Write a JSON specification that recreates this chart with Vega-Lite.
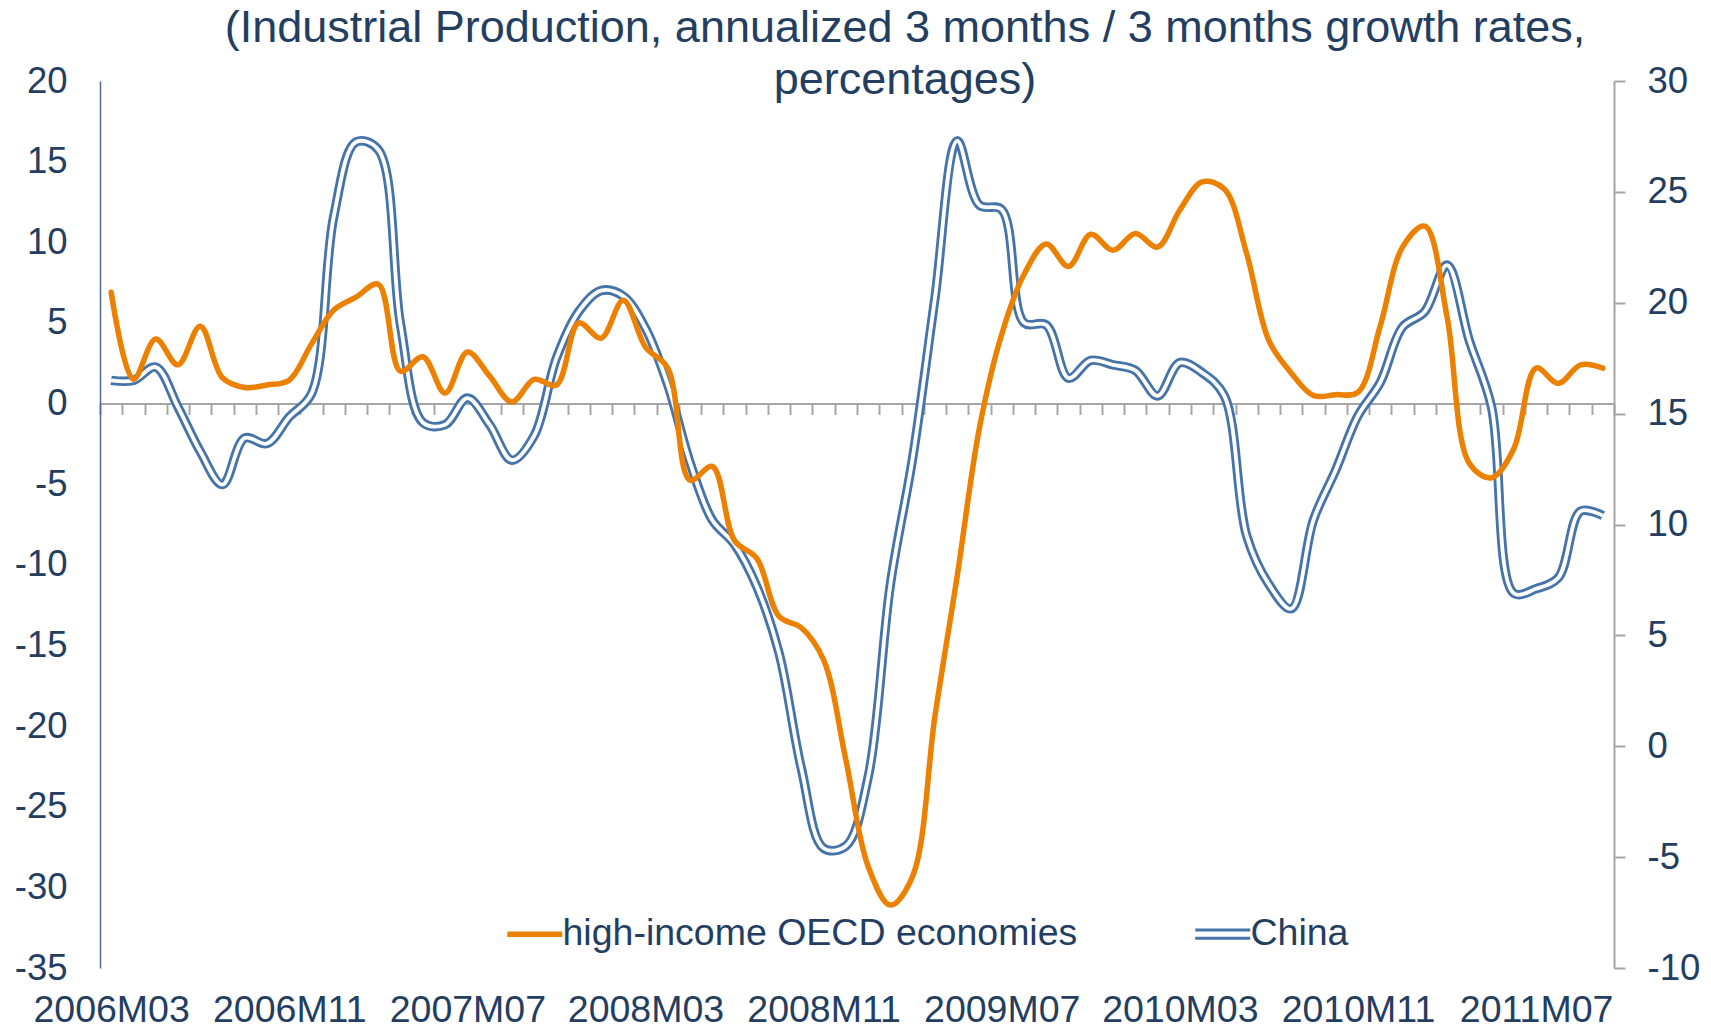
{
  "$schema": "https://vega.github.io/schema/vega-lite/v6.json",
  "width": 1514,
  "height": 887,
  "autosize": "none",
  "padding": {"left": 100, "top": 81, "right": 97, "bottom": 64},
  "background": "white",
  "config": {
    "view": {"stroke": null},
    "font": "Liberation Sans",
    "axis": {"grid": false}
  },
  "title": {
    "text": ["(Industrial Production, annualized 3 months / 3 months growth rates,", "percentages)"],
    "font": "Liberation Sans",
    "fontSize": 45,
    "fontWeight": "normal",
    "color": "#233E61",
    "anchor": "middle",
    "frame": "group",
    "dx": 48,
    "lineHeight": 52,
    "offset": -40
  },
  "data": {
    "values": [
      {"month": "2006M03", "oecd": 6.9, "china": 16.5},
      {"month": "2006M04", "oecd": 1.5, "china": 16.5},
      {"month": "2006M05", "oecd": 4.0, "china": 17.1},
      {"month": "2006M06", "oecd": 2.4, "china": 15.3},
      {"month": "2006M07", "oecd": 4.8, "china": 13.3},
      {"month": "2006M08", "oecd": 1.6, "china": 11.8},
      {"month": "2006M09", "oecd": 1.0, "china": 13.9},
      {"month": "2006M10", "oecd": 1.15, "china": 13.65},
      {"month": "2006M11", "oecd": 1.45, "china": 14.85},
      {"month": "2006M12", "oecd": 3.7, "china": 15.9},
      {"month": "2007M01", "oecd": 5.8, "china": 23.9},
      {"month": "2007M02", "oecd": 6.6, "china": 27.25},
      {"month": "2007M03", "oecd": 7.4, "china": 26.9},
      {"month": "2007M04", "oecd": 2.0, "china": 19.0},
      {"month": "2007M05", "oecd": 2.9, "china": 14.6},
      {"month": "2007M06", "oecd": 0.65, "china": 14.5},
      {"month": "2007M07", "oecd": 3.2, "china": 15.7},
      {"month": "2007M08", "oecd": 1.7, "china": 14.5},
      {"month": "2007M09", "oecd": 0.1, "china": 12.9},
      {"month": "2007M10", "oecd": 1.5, "china": 14.0},
      {"month": "2007M11", "oecd": 1.15, "china": 17.5},
      {"month": "2007M12", "oecd": 5.0, "china": 19.6},
      {"month": "2008M01", "oecd": 4.05, "china": 20.55},
      {"month": "2008M02", "oecd": 6.4, "china": 20.3},
      {"month": "2008M03", "oecd": 3.5, "china": 18.85},
      {"month": "2008M04", "oecd": 2.2, "china": 16.3},
      {"month": "2008M05", "oecd": -4.75, "china": 12.8},
      {"month": "2008M06", "oecd": -3.9, "china": 10.2},
      {"month": "2008M07", "oecd": -8.5, "china": 9.1},
      {"month": "2008M08", "oecd": -9.6, "china": 7.2},
      {"month": "2008M09", "oecd": -13.2, "china": 4.2},
      {"month": "2008M10", "oecd": -13.9, "china": -1.0},
      {"month": "2008M11", "oecd": -15.9, "china": -4.6},
      {"month": "2008M12", "oecd": -22.1, "china": -4.5},
      {"month": "2009M01", "oecd": -28.7, "china": -1.4},
      {"month": "2009M02", "oecd": -31.1, "china": 7.3},
      {"month": "2009M03", "oecd": -29.3, "china": 13.0},
      {"month": "2009M04", "oecd": -19.4, "china": 20.2},
      {"month": "2009M05", "oecd": -10.7, "china": 27.3},
      {"month": "2009M06", "oecd": -1.5, "china": 24.4},
      {"month": "2009M07", "oecd": 4.3, "china": 24.2},
      {"month": "2009M08", "oecd": 8.0, "china": 19.1},
      {"month": "2009M09", "oecd": 9.9, "china": 19.0},
      {"month": "2009M10", "oecd": 8.5, "china": 16.6},
      {"month": "2009M11", "oecd": 10.5, "china": 17.4},
      {"month": "2009M12", "oecd": 9.5, "china": 17.2},
      {"month": "2010M01", "oecd": 10.55, "china": 16.95},
      {"month": "2010M02", "oecd": 9.7, "china": 15.8},
      {"month": "2010M03", "oecd": 12.0, "china": 17.3},
      {"month": "2010M04", "oecd": 13.75, "china": 16.85},
      {"month": "2010M05", "oecd": 13.3, "china": 15.8},
      {"month": "2010M06", "oecd": 9.3, "china": 9.5},
      {"month": "2010M07", "oecd": 3.9, "china": 7.3},
      {"month": "2010M08", "oecd": 1.9, "china": 6.2},
      {"month": "2010M09", "oecd": 0.5, "china": 10.2},
      {"month": "2010M10", "oecd": 0.55, "china": 12.45},
      {"month": "2010M11", "oecd": 0.7, "china": 14.9},
      {"month": "2010M12", "oecd": 4.8, "china": 16.4},
      {"month": "2011M01", "oecd": 9.7, "china": 18.9},
      {"month": "2011M02", "oecd": 11.0, "china": 19.6},
      {"month": "2011M03", "oecd": 5.4, "china": 21.7},
      {"month": "2011M04", "oecd": -3.7, "china": 18.3},
      {"month": "2011M05", "oecd": -4.6, "china": 15.3},
      {"month": "2011M06", "oecd": -2.8, "china": 6.9},
      {"month": "2011M07", "oecd": 2.2, "china": 7.1},
      {"month": "2011M08", "oecd": 1.25, "china": 7.6},
      {"month": "2011M09", "oecd": 2.4, "china": 10.6},
      {"month": "2011M10", "oecd": 2.2, "china": 10.4}
    ]
  },
  "encoding": {
    "x": {
      "field": "month",
      "type": "ordinal",
      "sort": null,
      "bandPosition": 0.5,
      "scale": {"type": "band", "paddingInner": 0, "paddingOuter": 0},
      "axis": {
        "orient": "bottom",
        "offset": -564.5,
        "title": null,
        "domainColor": "#A6A6A6",
        "domainWidth": 2,
        "tickColor": "#A6A6A6",
        "tickWidth": 2,
        "tickSize": 11,
        "tickBand": "extent",
        "labelExpr": "indexof(['2006M03','2006M11','2007M07','2008M03','2008M11','2009M07','2010M03','2010M11','2011M07'], datum.value) >= 0 ? datum.value : ''",
        "labelOverlap": false,
        "labelBound": false,
        "labelFlush": false,
        "labelAngle": 0,
        "labelPadding": 577,
        "labelFontSize": 37.5,
        "labelFont": "Liberation Sans",
        "labelColor": "#233E61"
      }
    }
  },
  "layer": [
    {
      "mark": {"type": "line", "interpolate": "catmull-rom", "strokeWidth": 9.5},
      "encoding": {
        "y": {
          "field": "china",
          "type": "quantitative",
          "scale": {"domain": [-10, 30], "nice": false, "zero": false},
          "axis": {
            "orient": "right",
            "title": null,
            "values": [-10, -5, 0, 5, 10, 15, 20, 25, 30],
            "labelExpr": "datum.value + ''",
            "domainColor": "#A6A6A6",
            "domainWidth": 2,
            "tickColor": "#A6A6A6",
            "tickWidth": 2,
            "tickSize": 11,
            "labelPadding": 22,
            "labelFontSize": 36.5,
            "labelFont": "Liberation Sans",
            "labelColor": "#233E61"
          }
        },
        "color": {
          "datum": "China",
          "type": "nominal",
          "scale": {"domain": ["high-income OECD economies", "China"], "range": ["#EC8000", "#4674A8"]},
          "legend": {
            "orient": "none",
            "legendX": 416,
            "legendY": 834,
            "direction": "horizontal",
            "title": null,
            "padding": 0,
            "symbolType": "stroke",
            "symbolSize": 3025,
            "symbolStrokeWidth": 5.5,
            "labelFontSize": 37.5,
            "labelFont": "Liberation Sans",
            "labelColor": "#233E61",
            "labelOffset": 9,
            "labelLimit": 0,
            "columnPadding": 111,
            "encode": {
              "symbols": {
                "update": {
                  "shape": {"signal": "datum.value === 'China' ? 'M-1,-0.15H1M-1,0.15H1' : 'stroke'"},
                  "strokeWidth": {"signal": "datum.value === 'China' ? 3.1 : 5.5"}
                }
              }
            }
          }
        }
      }
    },
    {
      "mark": {"type": "line", "interpolate": "catmull-rom", "strokeWidth": 3.8, "color": "white"},
      "encoding": {
        "y": {
          "field": "china",
          "type": "quantitative",
          "scale": {"domain": [-10, 30], "nice": false, "zero": false},
          "axis": null
        }
      }
    },
    {
      "mark": {"type": "line", "interpolate": "catmull-rom", "strokeWidth": 5.5, "strokeCap": "round", "strokeJoin": "round"},
      "encoding": {
        "y": {
          "field": "oecd",
          "type": "quantitative",
          "scale": {"domain": [-35, 20], "nice": false, "zero": false},
          "axis": {
            "orient": "left",
            "title": null,
            "values": [-35, -30, -25, -20, -15, -10, -5, 0, 5, 10, 15, 20],
            "labelExpr": "datum.value + ''",
            "domainColor": "#4D6A8F",
            "domainWidth": 1.5,
            "ticks": false,
            "labelPadding": 33,
            "labelFontSize": 36.5,
            "labelFont": "Liberation Sans",
            "labelColor": "#233E61"
          }
        },
        "color": {"datum": "high-income OECD economies", "type": "nominal"}
      }
    }
  ],
  "resolve": {"scale": {"y": "independent"}, "axis": {"y": "independent"}}
}
